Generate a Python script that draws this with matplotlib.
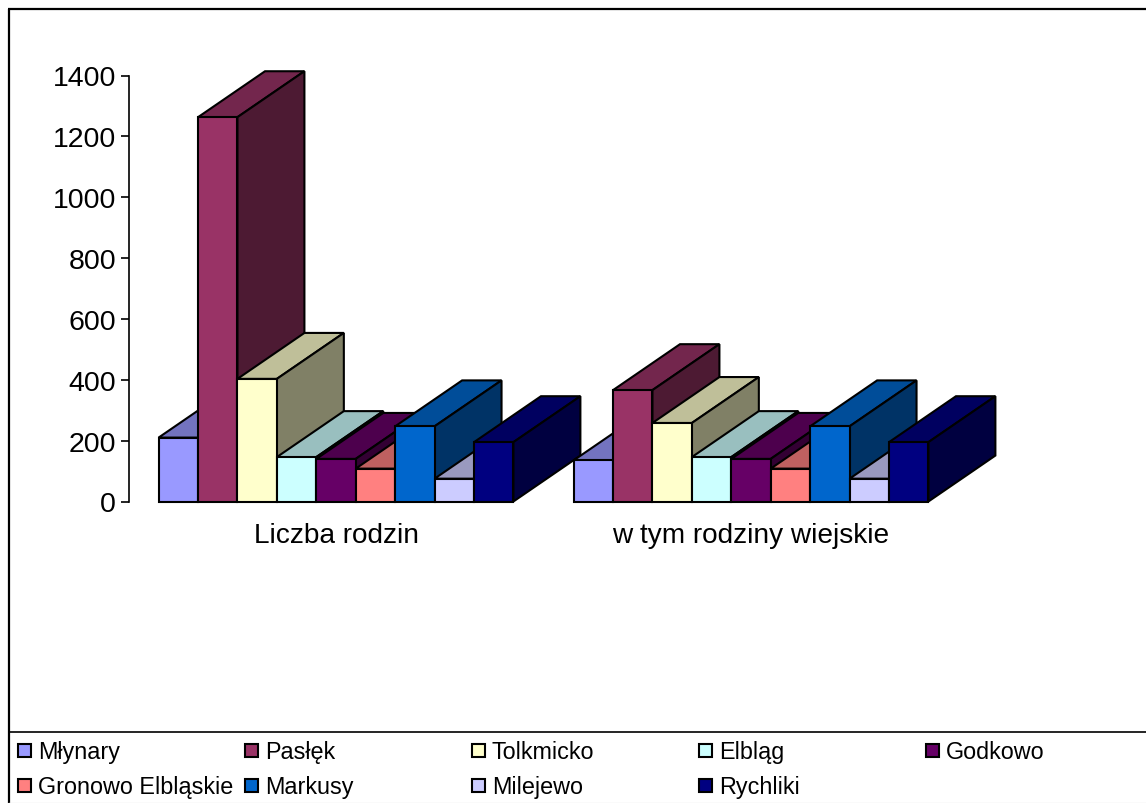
import numpy as np
import matplotlib
matplotlib.use('Agg')
import matplotlib.pyplot as plt
from matplotlib.patches import Polygon, Rectangle

plt.rcParams['font.family'] = ['Liberation Sans', 'DejaVu Sans']

categories = ['Liczba rodzin', 'w tym rodziny wiejskie']
gminy = ['Młynary', 'Pasłęk', 'Tolkmicko', 'Elbląg', 'Godkowo',
         'Gronowo Elbląskie', 'Markusy', 'Milejewo', 'Rychliki']
liczba_rodzin = [210, 1263, 403, 146, 140, 108, 247, 75, 195]
rodziny_wiejskie = [135, 366, 258, 146, 140, 108, 247, 75, 195]
colors = ['#9999FF', '#993366', '#FFFFCC', '#CCFFFF', '#660066',
          '#FF8080', '#0066CC', '#CCCCFF', '#000080']
yticks = [0, 200, 400, 600, 800, 1000, 1200, 1400]

W, H = 1146, 804
bar_w = 0.095     # bar width, in category units
depth_x = 0.1614  # depth offset, in category units
depth_y = 151     # depth offset, in value units
lw = 1.5


def shade(color, k):
    return tuple(k*c for c in matplotlib.colors.to_rgb(color))


def bar3d(ax, x, h, color):
    top = [(x, h), (x+bar_w, h), (x+bar_w+depth_x, h+depth_y), (x+depth_x, h+depth_y)]
    side = [(x+bar_w, 0), (x+bar_w+depth_x, depth_y), (x+bar_w+depth_x, h+depth_y), (x+bar_w, h)]
    ax.add_patch(Polygon(top, fc=shade(color, 0.75), ec='k', lw=lw, clip_on=False, joinstyle='miter'))
    ax.add_patch(Polygon(side, fc=shade(color, 0.5), ec='k', lw=lw, clip_on=False, joinstyle='miter'))
    ax.add_patch(Rectangle((x, 0), bar_w, h, fc=color, ec='k', lw=lw, clip_on=False))


fig = plt.figure(figsize=(W/100, H/100), dpi=100)

# page-level axes in pixels for the chart frame and the legend
page = fig.add_axes([0, 0, 1, 1])
page.set_xlim(0, W)
page.set_ylim(H, 0)
page.axis('off')
page.plot([8.5, 8.5], [H, 9.5], color='k', lw=1.6, solid_capstyle='butt')
page.plot([8, W], [9.5, 9.5], color='k', lw=1.6, solid_capstyle='butt')
page.plot([8.5, W], [732.5, 732.5], color='k', lw=1.2)
page.plot([8.5, W], [803.5, 803.5], color='#e6e6e6', lw=1)

col_x = [17, 244, 471, 698, 925]
row_y = [751.5, 786.5]
for i, (name, c) in enumerate(zip(gminy, colors)):
    x0 = col_x[i % 5]
    y0 = row_y[i // 5]
    page.add_patch(Rectangle((x0+1, y0-6.5), 13, 12.5, fc=c, ec='k', lw=1.5))
    page.text(x0+21, y0+1.5, name, fontsize=16.8, va='center', ha='left', color='k')

# plot area: two categories, value axis 0-1400
x_left, x_right = 128.5, 958.5
y_bottom, y_top = 502.5, 76.5
ax = fig.add_axes([x_left/W, 1-y_bottom/H, (x_right-x_left)/W, (y_bottom-y_top)/H])
ax.set_xlim(0, 2)
ax.set_ylim(0, 1400)
ax.patch.set_alpha(0)
for s in ['top', 'right', 'bottom']:
    ax.spines[s].set_visible(False)
ax.spines['left'].set_linewidth(1.2)
ax.set_yticks(yticks)
ax.tick_params(axis='y', labelsize=20.5, length=6, width=1.2, pad=3)
ax.set_xticks([0.5, 1.5])
ax.set_xticklabels(categories, fontsize=20.2)
ax.tick_params(axis='x', length=0, pad=15)

n = len(gminy)
for g, vals in enumerate([liczba_rodzin, rodziny_wiejskie]):
    x0 = g + 0.5 - n*bar_w/2
    for i, v in enumerate(vals):
        bar3d(ax, x0 + i*bar_w, v, colors[i])

fig.savefig('out.png', dpi=100)
